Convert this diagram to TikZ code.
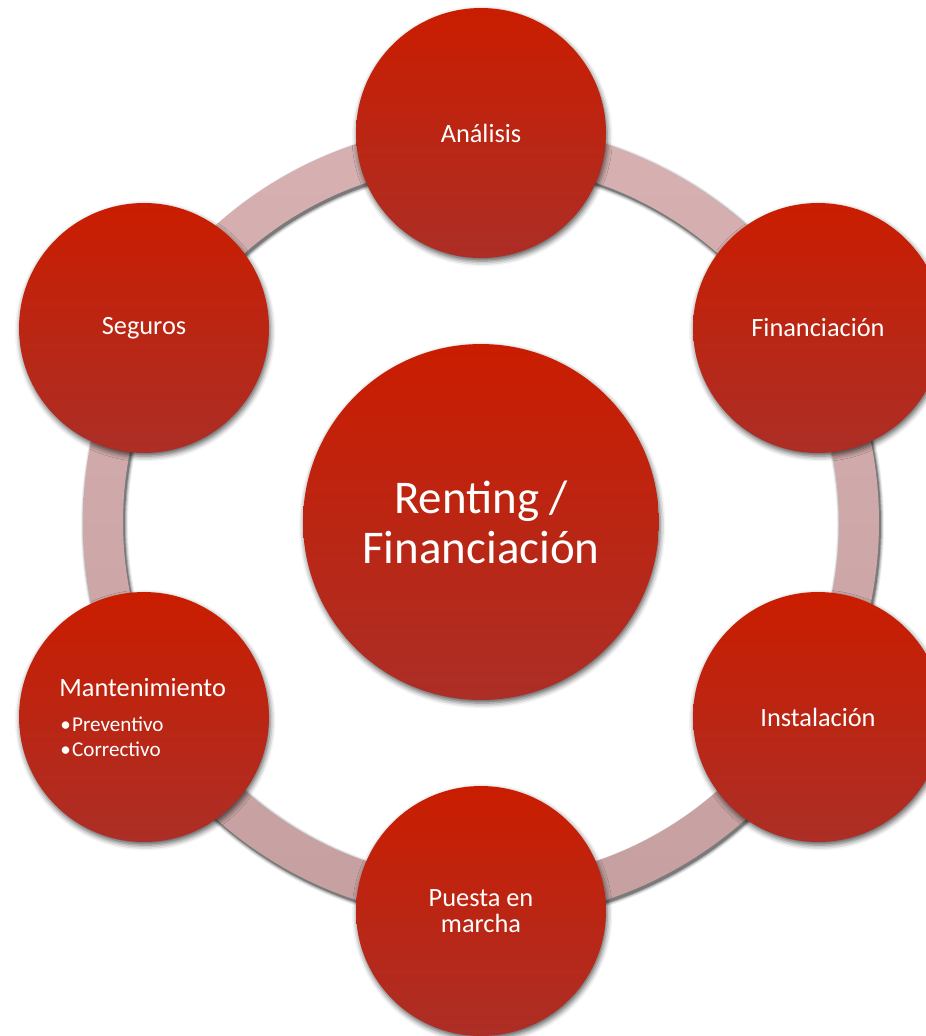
\documentclass[tikz,border=0pt]{standalone}
\usepackage{fontspec}
\setmainfont{Carlito}
\usetikzlibrary{shadows.blur}
\definecolor{ctop}{RGB}{202,29,0}
\definecolor{cbot}{RGB}{172,46,38}
\definecolor{rtop}{RGB}{215,177,177}
\definecolor{rbot}{RGB}{198,160,160}
\tikzset{
  bubble/.style={circle, minimum size=5cm, inner sep=0pt, top color=ctop, bottom color=cbot,
    text=white, font=\fontsize{15}{14.7}\selectfont, align=center,
    blur shadow={shadow xshift=0.7pt, shadow yshift=-1.8pt, shadow blur radius=3pt, shadow opacity=65}},
  hub/.style={bubble, minimum size=7.12cm, font=\fontsize{26.7}{28.5}\selectfont},
  label15/.style={anchor=base west, inner sep=0pt, text=white, font=\fontsize{15}{18}\selectfont},
  label12/.style={anchor=base west, inner sep=0pt, text=white, font=\fontsize{12}{14}\selectfont},
  ringshadow/.style={draw=black, line width=#1}
}
\begin{document}
\begin{tikzpicture}[x=0.02cm,y=-0.02cm]
\useasboundingbox (0,0) rectangle (926,1036);
\coordinate (c) at (481,522);
% ring with soft shadow
\foreach \w/\o in {0.94/0.07,0.90/0.11,0.86/0.17,0.82/0.3}
  \draw[ringshadow=\w cm, opacity=\o] ([shift={(1.5,2.5)}]c) circle (378);
\shade[top color=rtop, bottom color=rbot, even odd rule] (c) circle (398) (c) circle (358);
% circles
\node[hub] (hub) at (c) {Renting /\\Financiación};
\node[bubble] (ana) at (481,133) {Análisis};
\node[bubble] (fin) at (818,328) {Financiación};
\node[bubble] (ins) at (818,717) {Instalación};
\node[bubble] (pue) at (481,911) {Puesta en\\marcha};
\node[bubble] (man) at (144,717) {};
\node[bubble] (seg) at (144,328) {Seguros};
% Mantenimiento text
\node[label15] (mt) at (59,696) {Mantenimiento};
\node[label12] (b1) at (60,731) {\textbullet\hspace{0.8pt}Preventivo};
\node[label12] (b2) at (60,756) {\textbullet\hspace{0.8pt}Correctivo};
\end{tikzpicture}
\end{document}
